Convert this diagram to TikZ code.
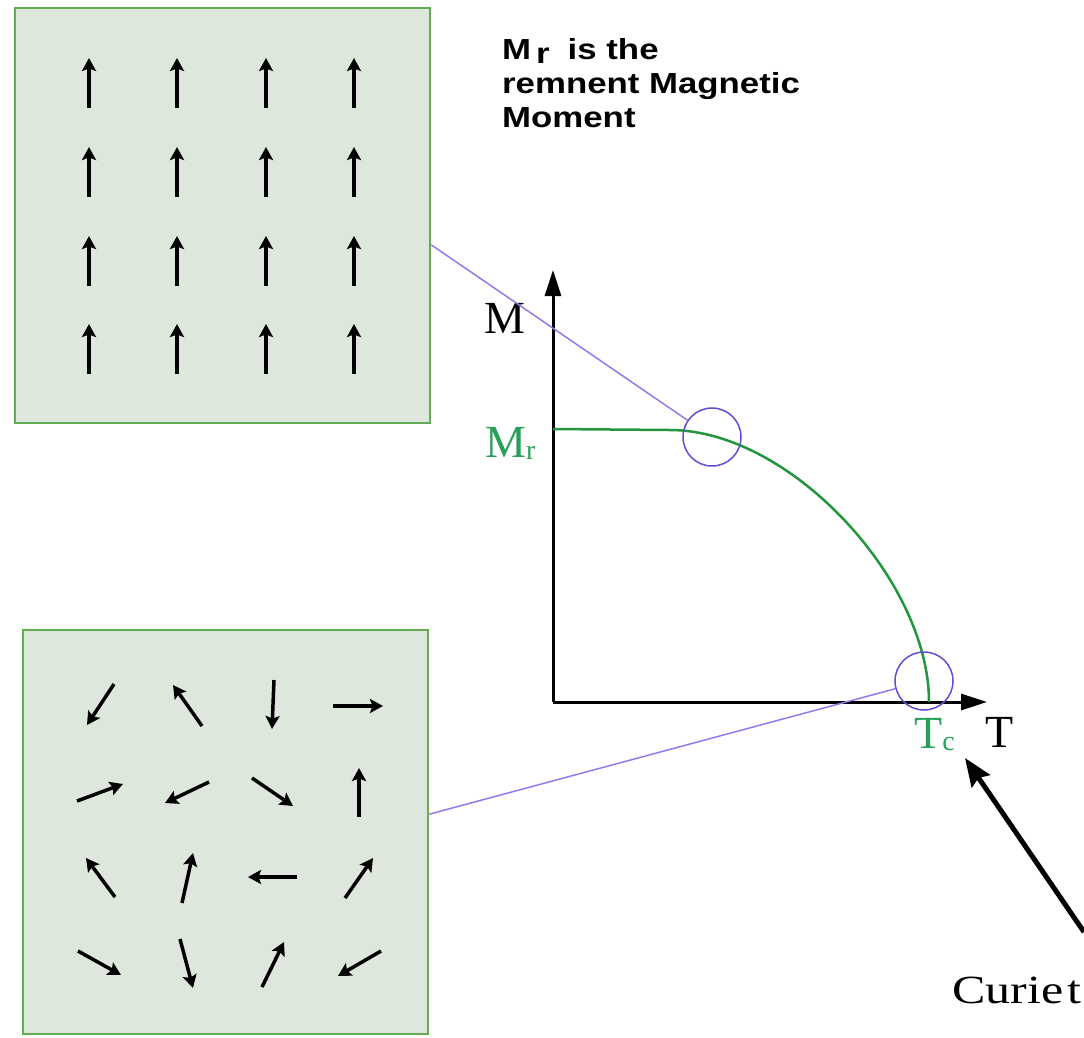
\documentclass[tikz,border=0pt]{standalone}
\usepackage{fontspec}
\setmainfont{Liberation Serif}
\newfontfamily\notefont[FakeStretch=1.2]{Liberation Sans}
\newfontfamily\curiefont[FakeStretch=1.25]{Liberation Serif}
\usetikzlibrary{arrows.meta}
\definecolor{boxfill}{RGB}{222,231,219}
\definecolor{boxline}{RGB}{98,172,84}
\definecolor{curvegreen}{RGB}{34,150,60}
\definecolor{labelgreen}{RGB}{40,160,90}
\definecolor{probecol}{RGB}{95,80,210}
\definecolor{linkcol}{RGB}{150,120,235}
\tikzset{
  spinbox/.style={draw=boxline,fill=boxfill,line width=2.5pt,rectangle,inner sep=0pt},
  spin/.style={line width=3.5pt,-{Stealth[length=13pt,width=14pt,inset=2.5pt]}},
  axisline/.style={line width=3pt,-{Triangle[length=26pt,width=16pt]}},
  probe/.style={draw=probecol,circle,line width=1.5pt,minimum size=58pt,inner sep=0pt},
  link/.style={draw=linkcol,line width=1.5pt},
  lbl/.style={inner sep=0pt,font=\fontsize{46}{46}\selectfont}
}

\begin{document}
\begin{tikzpicture}[x=1pt,y=-1pt]
  \useasboundingbox (0,0) rectangle (1084,1037);
  % domain pictures
  \node[spinbox,minimum width=415pt,minimum height=415pt] (topbox) at (222.5,215.5) {};
  \node[spinbox,minimum width=405pt,minimum height=404pt] (botbox) at (225.5,832) {};
  % aligned spins
  \foreach \x in {89,177,266,354}
    \foreach \y in {83,172,261,349}
      \draw[spin] (\x,\y+25) -- (\x,\y-25);
  % random spins
  \foreach \a/\b/\c/\d in {114/684/87/725, 202/726/173/685, 274/680/272/729, 333/706/383/706,
      77/801/123/784, 209/782/165/803, 252/778/293/806, 359/817/359/768,
      115/897/86/858, 182/903/193/853, 297/877/248/877, 345/898/373/858,
      78/951/121/975, 180/939/193/988, 262/987/284/942, 381/951/338/976}
    \draw[spin] (\a,\b) -- (\c,\d);

  % axes
  \coordinate (O) at (553,702);
  \coordinate (Mend) at (553,270);
  \coordinate (Tend) at (987,702);
  \draw[axisline] (O) -- (Mend);
  \draw[axisline] (O) -- (Tend);
  \node[lbl,anchor=base] (Mlab) at (505,333) {M};
  \node[lbl,anchor=base west] (Tlab) at (985,747) {T};

  % magnetisation curve
  \draw[curvegreen,line width=2.5pt] (O |- 0,429) -- (670,430)
    .. controls (790,430) and (929,580) .. (929,702);
  \node[lbl,anchor=base west,text=labelgreen] (Mr) at (485,457)
    {M\raisebox{-2pt}{\fontsize{28}{28}\selectfont r}};
  \node[lbl,anchor=base west,text=labelgreen] (Tc) at (914,748)
    {T\raisebox{-2pt}{\fontsize{28}{28}\selectfont c}};

  % probes
  \node[probe] (low) at (712,437) {};
  \node[probe] (high) at (924,681) {};
  \draw[link] (topbox.-8.6) -- (low);
  \draw[link] (botbox.5.6) -- (high);

  % notes
  \node[inner sep=0pt,anchor=north west,align=left,
        font=\notefont\bfseries\fontsize{29}{34}\selectfont] (note) at (502,38)
    {M\hspace{5pt}\raisebox{-4pt}{r}\hspace{18pt}is the\\remnent Magnetic\\Moment};
  \node[inner sep=0pt,anchor=base west,font=\curiefont\fontsize{40}{40}\selectfont]
    (curie) at (952,1003) {Curie\hspace{4pt}t};
  \coordinate (curiefoot) at (1084,932);
  \draw[line width=5pt,-{Stealth[length=28pt,width=22pt,inset=4pt]}] (curiefoot) -- (965,758);
\end{tikzpicture}
\end{document}
